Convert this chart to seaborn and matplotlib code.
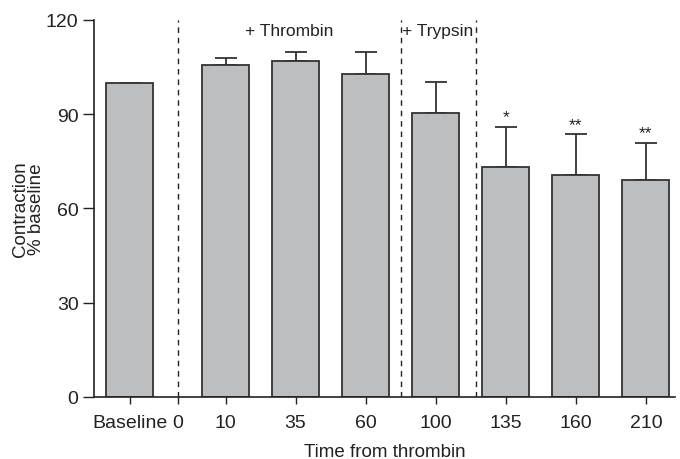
import matplotlib
matplotlib.use("Agg")
import matplotlib.pyplot as plt
import seaborn as sns
import numpy as np
import pandas as pd

categories = ["Baseline", "10", "35", "60", "100", "135", "160", "210"]
means = [100.0, 105.7, 106.8, 102.6, 90.4, 73.1, 70.6, 68.9]
sem = [0.0, 2.0, 3.0, 7.2, 9.7, 12.7, 12.9, 11.8]
signif = ["", "", "", "", "", "*", "**", "**"]
tick_labels = ["Baseline", "0", "10", "35", "60", "100", "135", "160", "210"]

sns.set_theme(style="ticks")
plt.rcParams["font.family"] = ["Liberation Sans", "DejaVu Sans"]

pos = np.array([0.0] + [1.37 + i for i in range(len(categories) - 1)])
df = pd.DataFrame({"pos": pos, "mean": means})

fig = plt.figure(figsize=(6.8, 4.6), dpi=100)
ax = fig.add_axes([0.138, 0.135, 0.855, 0.82])

sns.barplot(data=df, x="pos", y="mean", native_scale=True, width=0.67,
            color="#bdbec0", saturation=1, edgecolor="#333333", linewidth=1.3,
            errorbar=None, ax=ax, zorder=2)
ax.errorbar(pos, means, yerr=[np.zeros(len(sem)), sem], fmt="none",
            ecolor="#333333", elinewidth=1.3, capsize=8, capthick=1.3, zorder=1)

for x, m, s, lab in zip(pos, means, sem, signif):
    if lab:
        ax.annotate(lab, (x, m + s), xytext=(0, 2), textcoords="offset points",
                    ha="center", va="bottom", fontsize=12.5, color="#222222")

zero_pos = 0.69
for xv in [zero_pos, 3.87, 4.94]:
    ax.axvline(xv, color="#222222", linestyle=(0, (4, 3.5)), linewidth=1.0, zorder=0)

ax.text(2.28, 116.5, "+ Thrombin", ha="center", va="center", fontsize=12.5, color="#222222")
ax.text(4.40, 116.5, "+ Trypsin", ha="center", va="center", fontsize=12.5, color="#222222")

xt = [pos[0], zero_pos] + list(pos[1:])
ax.set_xticks(xt)
ax.set_xticklabels(tick_labels)
ax.set_xlim(-0.51, 7.79)
ax.set_ylim(0, 120)
ax.set_yticks([0, 30, 60, 90, 120])
ax.tick_params(axis="both", labelsize=14, colors="#222222", length=8, width=1.0, direction="out", pad=3)
ax.tick_params(axis="x", length=5, pad=7)
ax.set_xlabel("Time from thrombin", fontsize=13.5, color="#222222", labelpad=9)
ax.set_ylabel("Contraction\n% baseline", fontsize=13.5, color="#222222", labelpad=1, linespacing=0.9)

ax.spines["top"].set_visible(False)
ax.spines["right"].set_visible(False)
for sp in ["left", "bottom"]:
    ax.spines[sp].set_color("#222222")
    ax.spines[sp].set_linewidth(1.2)

fig.savefig("out.png", dpi=100)
